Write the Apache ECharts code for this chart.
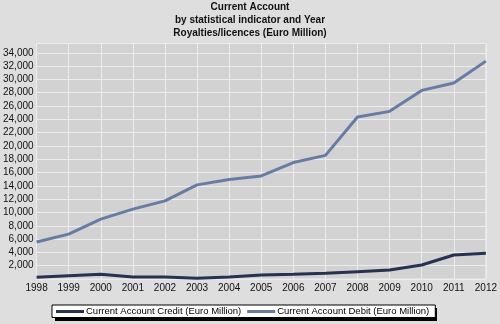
<!DOCTYPE html>
<html><head><meta charset="utf-8">
<script src="https://cdn.jsdelivr.net/npm/echarts@6/dist/echarts.min.js"></script>
<style>html,body{margin:0;padding:0;background:#dedede}#c{width:500px;height:324px}</style>
</head><body><div id="c"></div>
<script>
const years = ['1998','1999','2000','2001','2002','2003','2004','2005','2006','2007','2008','2009','2010','2011','2012'];
const creditValues = [250, 500, 700, 300, 300, 100, 300, 600, 700, 850, 1100, 1350, 2100, 3600, 3870];
const debitValues = [5550, 6750, 9000, 10500, 11750, 14150, 14950, 15500, 17500, 18580, 24350, 25200, 28350, 29450, 32750];
const titleLines = ['Current Account', 'by statistical indicator and Year', 'Royalties/licences (Euro Million)'];
const seriesNames = ['Current Account Credit (Euro Million)', 'Current Account Debit (Euro Million)'];

const chart = echarts.init(document.getElementById('c'), null, {renderer: 'canvas'});
const font = 'Liberation Sans, Arial, sans-serif';
chart.setOption({
  backgroundColor: '#dedede',
  animation: false,
  title: {
    text: titleLines.join('\n'),
    left: 'center', top: 1, padding: 0,
    textStyle: {fontFamily: font, fontSize: 10, fontWeight: 'bold', color: '#111', lineHeight: 13}
  },
  graphic: [{
    type: 'rect', z: 0, silent: true,
    shape: {x: 55, y: 308, width: 382, height: 13},
    style: {fill: '#000'}
  }],
  legend: {
    top: 305, left: 52, z: 10,
    data: seriesNames,
    backgroundColor: '#ffffff',
    borderColor: '#000', borderWidth: 1,
    padding: [1.5, 6, 1, 4],
    itemWidth: 28, itemHeight: 3, itemGap: 6,
    icon: 'rect',
    textStyle: {fontFamily: font, fontSize: 9.5, color: '#000', padding: [0, 0, 0, -3]}
  },
  grid: {
    left: 34, right: 12, top: 43.5, bottom: 45,
    show: true, backgroundColor: '#d2d2d2', borderColor: '#ececec', borderWidth: 1
  },
  xAxis: {
    type: 'category', data: years, boundaryGap: false,
    axisLine: {show: false}, axisTick: {show: false},
    axisLabel: {fontFamily: font, fontSize: 10, color: '#111', margin: 4, interval: 0},
    splitLine: {show: true, lineStyle: {color: '#ececec', width: 1}}
  },
  yAxis: {
    type: 'value', min: 0, max: 35400, interval: 2000,
    axisLine: {show: false}, axisTick: {show: false},
    axisLabel: {fontFamily: font, fontSize: 10, color: '#111', margin: 3,
      formatter: v => (v === 0 || v % 2000 !== 0) ? '' : v.toLocaleString('en-US')},
    splitLine: {lineStyle: {color: '#ececec', width: 1}}
  },
  series: [
    {name: seriesNames[0], type: 'line', data: creditValues, showSymbol: false,
     color: '#28314f', lineStyle: {width: 3, color: '#28314f'}},
    {name: seriesNames[1], type: 'line', data: debitValues, showSymbol: false,
     color: '#6a7ba3', lineStyle: {width: 3, color: '#6a7ba3'}}
  ]
});
</script></body></html>
